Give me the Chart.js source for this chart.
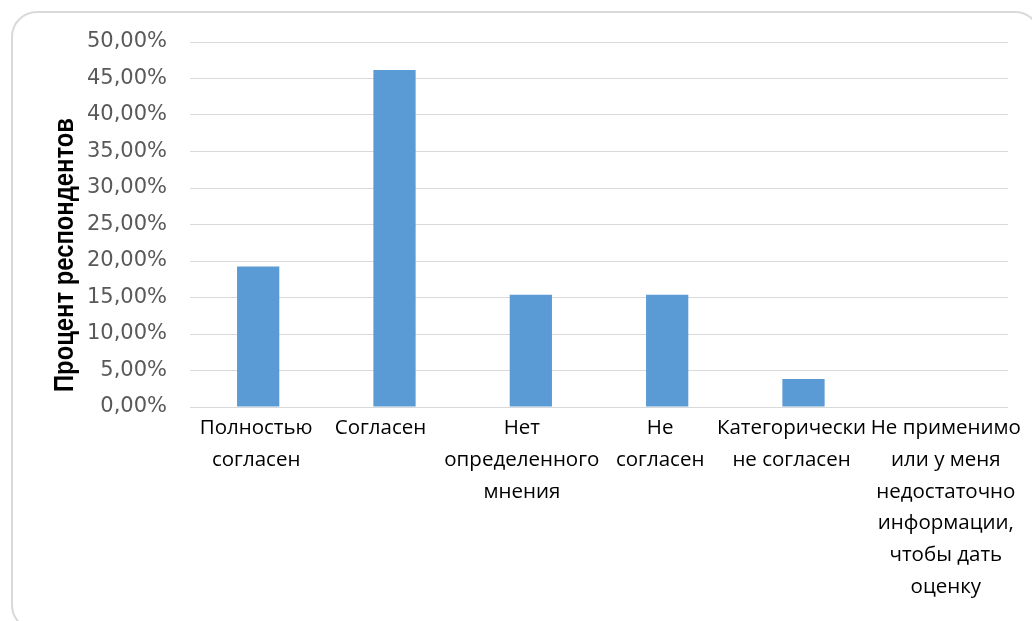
<!DOCTYPE html>
<html><head><meta charset="utf-8">
<script src="https://cdn.jsdelivr.net/npm/chart.js@4.4.1/dist/chart.umd.min.js"></script>
<style>
html,body{margin:0;padding:0;background:#fff;}
#wrap{position:relative;width:1032px;height:621px;overflow:hidden;}
#frame{position:absolute;left:11px;top:11px;width:1030px;height:620px;border:2px solid #d9d9d9;border-radius:26px;box-sizing:border-box;}
canvas{position:absolute;left:0;top:0;}
</style></head>
<body><div id="wrap"><div id="frame"></div><canvas id="c" width="1032" height="621"></canvas></div>
<script>
const categories = [
  ["Полностью","согласен"],
  ["Согласен"],
  ["Нет","определенного","мнения"],
  ["Не","согласен"],
  ["Категорически","не согласен"],
  ["Не применимо","или у меня","недостаточно","информации,","чтобы дать","оценку"]
];
const percentValues = [19.23, 46.15, 15.38, 15.38, 3.85, 0];
const yAxisTitle = "Процент респондентов";
const yMin = 0, yMax = 50, yStep = 5;

// label style: horizontal nudges copied from the reference's label layout
const labelNudge = [-2, -14, -9, -7, -12, 6];

const yTitlePlugin = {
  id: 'yTitle',
  afterDraw(chart) {
    const ctx = chart.ctx;
    ctx.save();
    ctx.translate(73, 255);
    ctx.rotate(-Math.PI/2);
    ctx.font = 'bold 27px "Liberation Sans", Arial, sans-serif';
    const w = ctx.measureText(yAxisTitle).width;
    ctx.scale(274 / w, 1);
    ctx.fillStyle = '#000';
    ctx.textAlign = 'center';
    ctx.textBaseline = 'alphabetic';
    ctx.fillText(yAxisTitle, 0, 0);
    ctx.restore();
  }
};

const xLabelPlugin = {
  id: 'xLabels',
  afterDraw(chart) {
    const ctx = chart.ctx, xs = chart.scales.x, area = chart.chartArea;
    ctx.save();
    ctx.font = '20.5px "Open Sans", sans-serif';
    ctx.fillStyle = '#000';
    ctx.textAlign = 'center';
    ctx.textBaseline = 'alphabetic';
    chart.data.labels.forEach((lines, i) => {
      const x = xs.getPixelForTick(i) + labelNudge[i];
      lines.forEach((t, k) => ctx.fillText(t, x, area.bottom + 27 + k * 31.8));
    });
    ctx.restore();
  }
};

new Chart(document.getElementById('c'), {
  type: 'bar',
  data: {
    labels: categories,
    datasets: [{
      data: percentValues,
      backgroundColor: '#5b9bd5',
      borderWidth: 0,
      barPercentage: 0.62,
      categoryPercentage: 0.5
    }]
  },
  options: {
    responsive: false,
    animation: false,
    layout: { padding: { left: 0, right: 24, top: 42, bottom: 0 } },
    plugins: { legend: { display: false }, tooltip: { enabled: false } },
    scales: {
      x: {
        grid: { display: false, drawTicks: false },
        border: { display: false },
        ticks: { display: false, autoSkip: false, maxRotation: 0 },
        afterFit(s) { s.height = 214; }
      },
      y: {
        min: yMin, max: yMax,
        grid: { color: '#d9d9d9', lineWidth: 1, drawTicks: false },
        border: { display: false },
        ticks: {
          stepSize: yStep, padding: 23, color: '#595959',
          font: { family: '"DejaVu Sans", Verdana, sans-serif', size: 21 },
          callback: v => v.toFixed(2).replace('.', ',') + '%'
        },
        afterFit(s) { s.width = 190; }
      }
    }
  },
  plugins: [yTitlePlugin, xLabelPlugin]
});
</script></body></html>
